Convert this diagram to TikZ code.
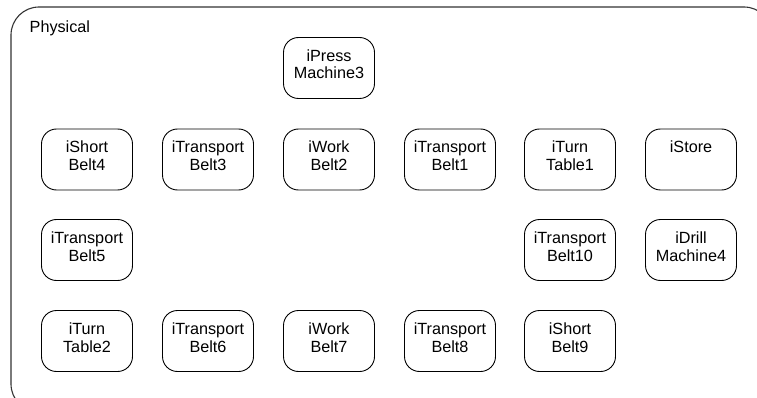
\documentclass[tikz,border=0pt]{standalone}
\usepackage{fontspec}
\setmainfont{Liberation Sans}
\begin{document}
\begin{tikzpicture}[x=1pt,y=-1pt,
  box/.style={draw=black,line width=0.9pt,rounded corners=15pt,minimum width=91pt,minimum height=61pt,inner sep=0pt},
  lbl/.style={inner sep=0pt,anchor=base,align=center,font=\fontsize{16.2}{17.8}\selectfont},
  frame/.style={draw=black!80,line width=1.1pt,rounded corners=28pt}]
\useasboundingbox (0,0) rectangle (757,398);
\clip (0,0) rectangle (757,398);
\path[frame] (11,7) rectangle (772,412);
\node[inner sep=0pt,anchor=base west,font=\fontsize{16.2}{17.8}\selectfont] (phys) at (29.5,32.5) {Physical};
\newcommand\cellbox[4]{\node[box] (#1) at (#2,#3) {}; \node[lbl] (#1t) at (#2,#3+11) {#4};}
\cellbox{press3}{329}{68}{iPress\\Machine3}
\cellbox{short4}{87}{159.5}{iShort\\Belt4}
\cellbox{trans3}{208}{159.5}{iTransport\\Belt3}
\cellbox{work2}{329}{159.5}{iWork\\Belt2}
\cellbox{trans1}{450}{159.5}{iTransport\\Belt1}
\cellbox{turn1}{570}{159.5}{iTurn\\Table1}
\cellbox{store}{691}{159.5}{iStore\\\mbox{}}
\cellbox{trans5}{87}{250}{iTransport\\Belt5}
\cellbox{trans10}{570}{250}{iTransport\\Belt10}
\cellbox{drill4}{691}{250}{iDrill\\Machine4}
\cellbox{turn2}{87}{341}{iTurn\\Table2}
\cellbox{trans6}{208}{341}{iTransport\\Belt6}
\cellbox{work7}{329}{341}{iWork\\Belt7}
\cellbox{trans8}{450}{341}{iTransport\\Belt8}
\cellbox{short9}{570}{341}{iShort\\Belt9}
\end{tikzpicture}
\end{document}
